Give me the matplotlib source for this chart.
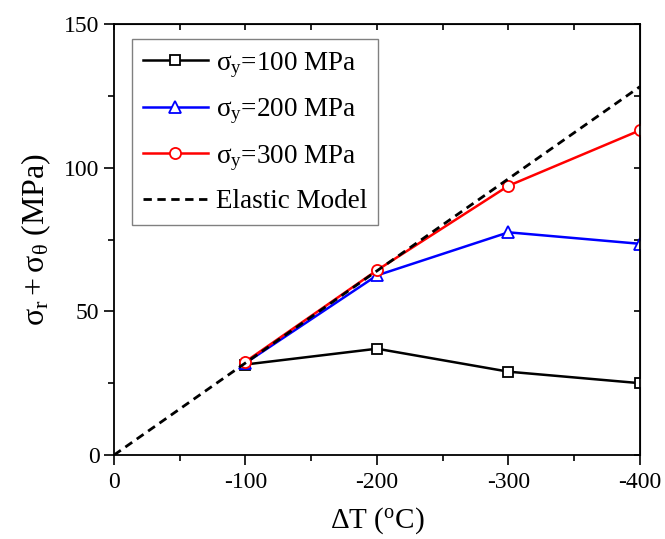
import numpy as np
import matplotlib.pyplot as plt
from matplotlib.ticker import MultipleLocator

plt.rcParams['font.family'] = 'Liberation Serif'
plt.rcParams['mathtext.fontset'] = 'custom'
plt.rcParams['mathtext.rm'] = 'Liberation Serif'
plt.rcParams['mathtext.it'] = 'Liberation Serif'
plt.rcParams['mathtext.default'] = 'regular'
plt.rcParams['axes.unicode_minus'] = False

# temperature change (deg C) and stress sum (MPa) for each yield strength
dT = [-100, -200, -300, -400]
s100 = [31.5, 37.0, 29.0, 25.0]
s200 = [32.0, 62.5, 77.5, 73.5]
s300 = [32.5, 64.3, 93.7, 113.0]

# elastic model end points
dT_el = [0, -400]
s_el = [0, 128.2]

fig = plt.figure(figsize=(6.65, 5.39), dpi=100)
ax = fig.add_axes([0.1714, 0.1558, 0.791, 0.7997])

ax.plot(dT, s100, color='black', lw=1.8, marker='s', ms=6.5, mfc='white', mec='black', mew=1.3,
        label=r'$\sigma_y$=100 MPa')
ax.plot(dT, s200, color='blue', lw=1.8, marker='^', ms=8, mfc='white', mec='blue', mew=1.3,
        label=r'$\sigma_y$=200 MPa')
ax.plot(dT, s300, color='red', lw=1.8, marker='o', ms=8, mfc='white', mec='red', mew=1.3,
        label=r'$\sigma_y$=300 MPa')
ax.plot(dT_el, s_el, color='black', lw=2, ls=(0, (3, 2)), label='Elastic Model')

ax.set_xlim(0, -400)
ax.set_ylim(0, 150)
ax.xaxis.set_major_locator(MultipleLocator(100))
ax.xaxis.set_minor_locator(MultipleLocator(50))
ax.yaxis.set_major_locator(MultipleLocator(50))
ax.yaxis.set_minor_locator(MultipleLocator(25))

ax.tick_params(which='both', direction='out', labelsize=17, width=1.2, colors='black')
ax.tick_params(which='major', length=7)
ax.tick_params(which='minor', length=4)
ax.tick_params(axis='x', pad=5)
for s in ax.spines.values():
    s.set_linewidth(1.3)

# inward ticks on the top and right edges
ax2 = ax.secondary_xaxis('top')
ax2.xaxis.set_major_locator(MultipleLocator(100))
ax2.xaxis.set_minor_locator(MultipleLocator(50))
ax2.tick_params(which='both', direction='in', length=4, width=1.2, labeltop=False)
ax3 = ax.secondary_yaxis('right')
ax3.yaxis.set_major_locator(MultipleLocator(50))
ax3.yaxis.set_minor_locator(MultipleLocator(25))
ax3.tick_params(which='both', direction='in', length=4, width=1.2, labelright=False)

ax.set_xlabel(r'$\Delta$T ($^o$C)', fontsize=21, labelpad=9)
ax.set_ylabel(r'$\sigma_r + \sigma_\theta$ (MPa)', fontsize=23, labelpad=8)

leg = ax.legend(loc='upper left', bbox_to_anchor=(0.034, 0.965), fontsize=19.5,
                fancybox=False, edgecolor='gray', framealpha=1,
                handlelength=2.4, handletextpad=0.3, labelspacing=0.62,
                borderpad=0.4, borderaxespad=0)
leg.get_frame().set_linewidth(1.0)

fig.savefig('out.png', dpi=100)
